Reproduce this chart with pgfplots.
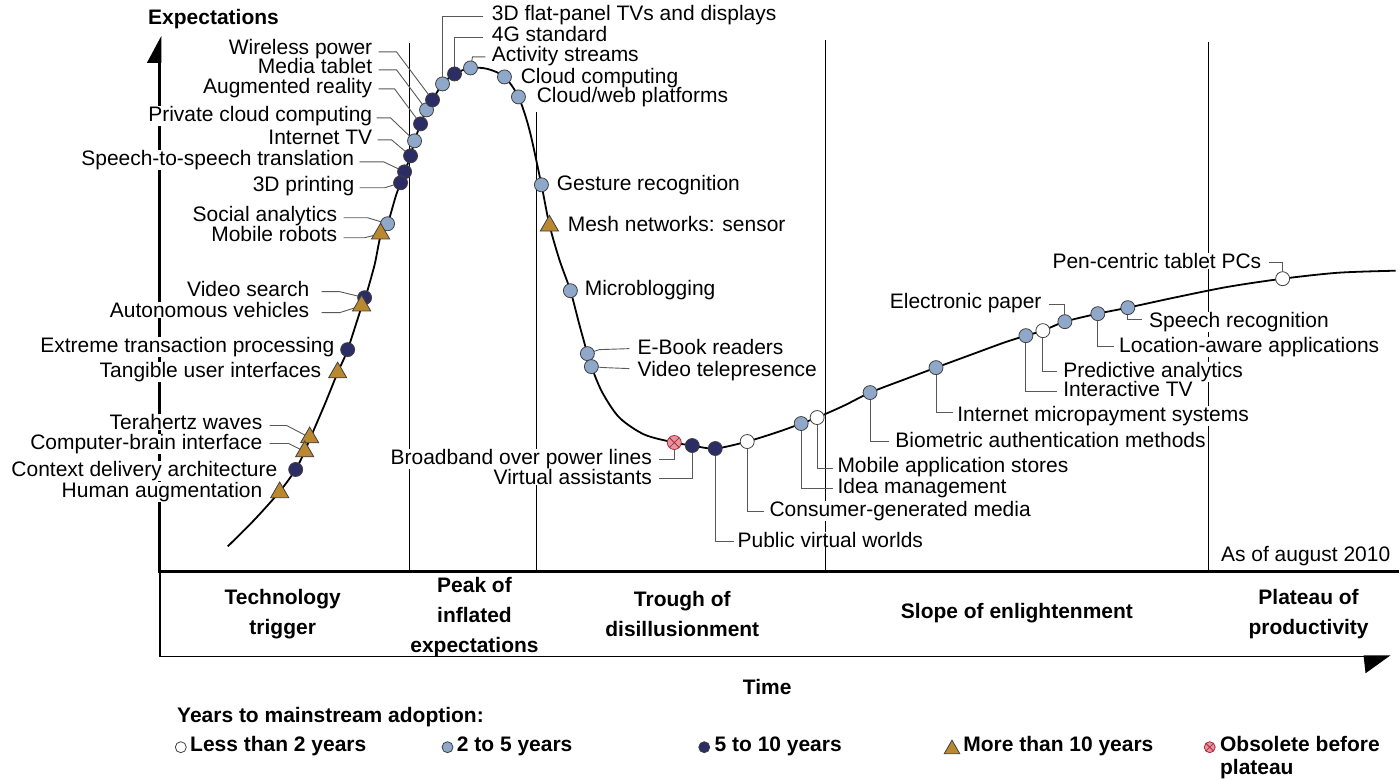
\documentclass[border=0pt]{standalone}
\usepackage{fontspec}
\setmainfont{Liberation Sans}
\usepackage{pgfplots}
\pgfplotsset{compat=1.18}
\definecolor{lb}{RGB}{143,168,201}
\definecolor{nv}{RGB}{43,45,100}
\definecolor{gd}{RGB}{186,136,46}
\definecolor{obf}{RGB}{226,150,160}
\definecolor{obd}{RGB}{180,40,60}
\newcommand{\lf}{\fontsize{21}{21}\selectfont}
\tikzset{
  labbg/.style={font=\lf, inner sep=0.2pt, fill=white, text opacity=0, yshift=-2pt},
  labfg/.style={font=\lf, inner sep=0.2pt, yshift=-2pt},
  ldr/.style={draw=black!65, line width=0.9pt},
}
\newcommand{\alllabels}[1]{%
\node[#1, anchor=mid west, font=\lf\bfseries] at (148,20) {Expectations};
\node[#1, anchor=mid east] at (373,50) {Wireless power};
\node[#1, anchor=mid east] at (373,69) {Media tablet};
\node[#1, anchor=mid east] at (373,89) {Augmented reality};
\node[#1, anchor=mid east] at (373,117) {Private cloud computing};
\node[#1, anchor=mid east] at (373,140) {Internet TV};
\node[#1, anchor=mid east] at (355,161) {Speech-to-speech translation};
\node[#1, anchor=mid east] at (355,187) {3D printing};
\node[#1, anchor=mid east] at (338,217) {Social analytics};
\node[#1, anchor=mid east] at (338,237) {Mobile robots};
\node[#1, anchor=mid east] at (310,292) {Video search};
\node[#1, anchor=mid east] at (310,313) {Autonomous vehicles};
\node[#1, anchor=mid east] at (335,348) {Extreme transaction processing};
\node[#1, anchor=mid east] at (322,373) {Tangible user interfaces};
\node[#1, anchor=mid east] at (263,425) {Terahertz waves};
\node[#1, anchor=mid east] at (263,445) {Computer-brain interface};
\node[#1, anchor=mid east] at (278,472) {Context delivery architecture};
\node[#1, anchor=mid east] at (263,493) {Human augmentation};
\node[#1, anchor=mid east] at (653,460) {Broadband over power lines};
\node[#1, anchor=mid east] at (653,480) {Virtual assistants};
\node[#1, anchor=mid east] at (1043,304) {Electronic paper};
\node[#1, anchor=mid east] at (1263,264) {Pen-centric tablet PCs};
\node[#1, anchor=mid west] at (492,16) {3D flat-panel TVs and displays};
\node[#1, anchor=mid west] at (492,37) {4G standard};
\node[#1, anchor=mid west] at (492,57) {Activity streams};
\node[#1, anchor=mid west] at (521,79) {Cloud computing};
\node[#1, anchor=mid west] at (537,98) {Cloud/web platforms};
\node[#1, anchor=mid west] at (557,186) {Gesture recognition};
\node[#1, anchor=mid west] at (568,227) {Mesh networks: sensor};
\node[#1, anchor=mid west] at (585,291) {Microblogging};
\node[#1, anchor=mid west] at (638,350) {E-Book readers};
\node[#1, anchor=mid west] at (638,372) {Video telepresence};
\node[#1, anchor=mid west] at (738,543) {Public virtual worlds};
\node[#1, anchor=mid west] at (770,512) {Consumer-generated media};
\node[#1, anchor=mid west] at (838,468) {Mobile application stores};
\node[#1, anchor=mid west] at (838,489) {Idea management};
\node[#1, anchor=mid west] at (896,443) {Biometric authentication methods};
\node[#1, anchor=mid west] at (958,417) {Internet micropayment systems};
\node[#1, anchor=mid west] at (1064,392) {Interactive TV};
\node[#1, anchor=mid west] at (1064,373) {Predictive analytics};
\node[#1, anchor=mid west] at (1120,348) {Location-aware applications};
\node[#1, anchor=mid west] at (1150,323) {Speech recognition};
\node[#1, anchor=mid west] at (1222,557) {As of august 2010};
}
\begin{document}
\begin{tikzpicture}
\begin{axis}[width=1400pt, height=781pt, scale only axis,
  xmin=0, xmax=1400, ymin=0, ymax=781, y dir=reverse,
  hide axis, clip=false]
\path (0,0) rectangle (1400,781);
% axes
\draw[line width=3pt] (160,62) -- (160,572);
\fill (147,63) -- (161.5,36) -- (161.5,63) -- cycle;
\draw[line width=3pt] (158.5,572) -- (1400,572);
\draw[line width=1.5pt] (160,572) -- (160,657) -- (1372,657);
\fill (1365,656) -- (1392,656) -- (1367,674) -- cycle;
% phase separators
\draw[line width=1pt] (410,43) -- (410,572);
\draw[line width=1pt] (537,112) -- (537,572);
\draw[line width=1pt] (826,40) -- (826,572);
\draw[line width=1pt] (1210,42) -- (1210,572);
% labels: white backgrounds first, then texts
\alllabels{labbg}
\alllabels{labfg}
% phase names
\node[font=\fontsize{21}{30}\selectfont\bfseries, align=center] at (283,615) {Technology\\trigger};
\node[font=\fontsize{21}{30}\selectfont\bfseries, align=center] at (475,618) {Peak of\\inflated\\expectations};
\node[font=\fontsize{21}{30}\selectfont\bfseries, align=center] at (683,615) {Trough of\\disillusionment};
\node[font=\fontsize{21}{30}\selectfont\bfseries, align=center] at (1018,614) {Slope of enlightenment};
\node[font=\fontsize{21}{30}\selectfont\bfseries, align=center] at (1310,615) {Plateau of\\productivity};
\node[font=\lf\bfseries] at (768,688) {Time};
\node[labfg, anchor=mid west, font=\lf\bfseries] at (177,719) {Years to mainstream adoption:};
\node[labfg, anchor=mid west, font=\lf\bfseries] at (190,748) {Less than 2 years};
\node[labfg, anchor=mid west, font=\lf\bfseries] at (457,748) {2 to 5 years};
\node[labfg, anchor=mid west, font=\lf\bfseries] at (715,748) {5 to 10 years};
\node[labfg, anchor=mid west, font=\lf\bfseries] at (964,748) {More than 10 years};
\node[labfg, anchor=mid west, font=\lf\bfseries] at (1221,748) {Obsolete before};
\node[labfg, anchor=mid west, font=\lf\bfseries] at (1221,771) {plateau};
% leaders
\draw[ldr] (379,52) -- (397,52) -- (433,100);
\draw[ldr] (379,70) -- (397,70) -- (427,110);
\draw[ldr] (379,89) -- (395,89) -- (421,124);
\draw[ldr] (377,118) -- (391,118) -- (415,141);
\draw[ldr] (378,140) -- (392,140) -- (411,156);
\draw[ldr] (360,162) -- (384,162) -- (405,172);
\draw[ldr] (360,188) -- (385,188) -- (401,183);
\draw[ldr] (344,218) -- (368,218) -- (388,224);
\draw[ldr] (344,238) -- (365,238) -- (381,234);
\draw[ldr] (322,292) -- (340,292) -- (365,298);
\draw[ldr] (322,313) -- (340,313) -- (362,306);
\draw[ldr] (270,426) -- (287,426) -- (310,438);
\draw[ldr] (270,444) -- (289,444) -- (305,452);
\draw[ldr] (484,16) -- (443,16) -- (443,84);
\draw[ldr] (484,37) -- (455,37) -- (455,74);
\draw[ldr] (486,57) -- (473,57) -- (471,68);
\draw[ldr] (588,354) -- (600,350) -- (630,349);
\draw[ldr] (592,367) -- (605,368) -- (630,369);
\draw[ldr] (660,460) -- (675,460) -- (675,443);
\draw[ldr] (660,479) -- (693,479) -- (693,446);
\draw[ldr] (735,542) -- (716,542) -- (716,449);
\draw[ldr] (765,512) -- (748,512) -- (748,442);
\draw[ldr] (834,469) -- (818,469) -- (818,418);
\draw[ldr] (834,489) -- (802,489) -- (802,424);
\draw[ldr] (890,442) -- (871,442) -- (871,393);
\draw[ldr] (954,413) -- (937,413) -- (937,368);
\draw[ldr] (1058,392) -- (1027,392) -- (1027,336);
\draw[ldr] (1058,372) -- (1044,372) -- (1044,331);
\draw[ldr] (1115,347) -- (1099,347) -- (1099,314);
\draw[ldr] (1143,320) -- (1129,320) -- (1129,308);
\draw[ldr] (1050,305) -- (1066,305) -- (1066,322);
\draw[ldr] (1270,263) -- (1284,263) -- (1284,279);
% hype curve
\addplot[smooth, black, line width=1.8pt, no markers] coordinates {
(228,547) (255,520) (280,492) (296,470) (305,452) (310,440) (325,405) (338,373)
(348,350) (362,307) (366,297) (375,265) (381,236) (388,224) (396,197) (401,183)
(405,172) (411,156) (415,141) (421,124) (427,110) (433,100) (443,84) (455,74)
(471,68) (488,69) (505,77) (519,97) (530,130) (542,185) (550,225) (560,260)
(571,291) (580,325) (588,354) (592,367) (603,393) (620,418) (645,435) (675,443)
(693,446) (716,449) (748,442) (780,432) (802,424) (818,418) (845,406) (871,393)
(905,380) (937,368) (975,354) (1005,343) (1027,336) (1044,331) (1066,322)
(1099,314) (1129,308) (1180,297) (1230,287) (1284,279) (1340,273) (1397,271)};
% markers
\addplot[only marks, mark=*, mark size=7, mark options={fill=white, draw=black!75, line width=0.8pt}]
coordinates {(748,442) (818,418) (1044,331) (1284,279)};
\addplot[only marks, mark=*, mark size=7, mark options={fill=lb, draw=black!75, line width=0.8pt}]
coordinates {(443,84) (471,68) (505,77) (519,97) (427,110) (415,141) (388,224) (542,185)
(571,291) (588,354) (592,367) (802,424) (871,393) (937,368) (1027,336) (1066,322) (1099,314) (1129,308)};
\addplot[only marks, mark=*, mark size=7, mark options={fill=nv, draw=black!75, line width=0.8pt}]
coordinates {(455,74) (433,100) (421,124) (411,156) (405,172) (401,183) (365,298) (348,350)
(296,470) (693,446) (716,449)};
\addplot[only marks, mark=triangle*, mark size=10.5, mark options={fill=gd, draw=black!75, line width=0.8pt}]
coordinates {(381,234) (362,306) (338,373) (310,438) (305,452) (280,493) (550,226)};
\addplot[only marks, mark=otimes*, mark size=7, mark options={fill=obf, draw=obd, line width=0.8pt}]
coordinates {(675,443)};
% legend markers
\addplot[only marks, mark=*, mark size=5.5, mark options={fill=white, draw=black!75, line width=0.8pt}]
coordinates {(181,748)};
\addplot[only marks, mark=*, mark size=5.5, mark options={fill=lb, draw=black!75, line width=0.8pt}]
coordinates {(448,748)};
\addplot[only marks, mark=*, mark size=5.5, mark options={fill=nv, draw=black!75, line width=0.8pt}]
coordinates {(705,748)};
\addplot[only marks, mark=triangle*, mark size=9, mark options={fill=gd, draw=black!75, line width=0.8pt}]
coordinates {(953,750)};
\addplot[only marks, mark=otimes*, mark size=5.5, mark options={fill=obf, draw=obd, line width=0.8pt}]
coordinates {(1211,748)};
\end{axis}
\end{tikzpicture}
\end{document}
